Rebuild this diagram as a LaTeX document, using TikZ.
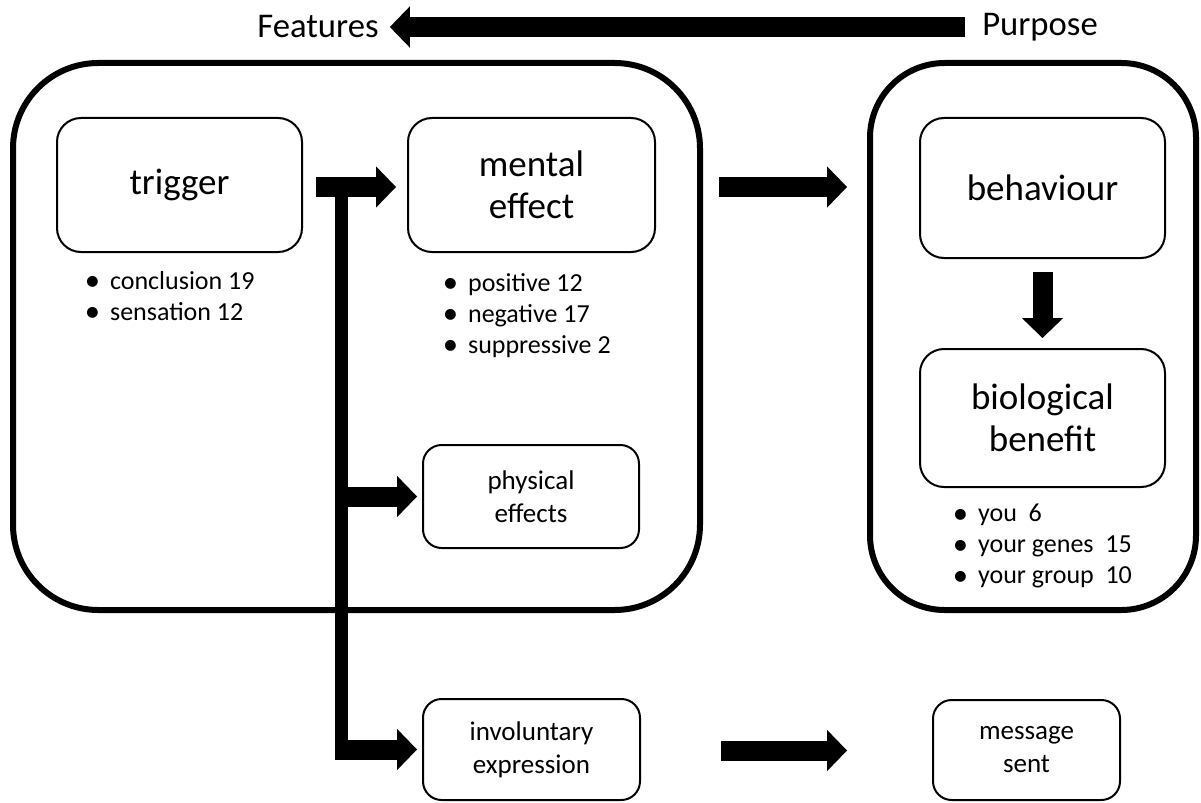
\documentclass[tikz,border=0pt]{standalone}
\usepackage{fontspec}
\setmainfont{Carlito}
\usetikzlibrary{calc,arrows.meta}
\tikzset{
  box/.style={draw, line width=1.5pt, rounded corners=18pt, align=center},
  bigbox/.style={box, font=\fontsize{27.75}{31.5}\selectfont},
  smallbox/.style={box, rounded corners=14pt, font=\fontsize{20.25}{24.75}\selectfont},
  outerbox/.style={draw, line width=4.5pt, rounded corners=64pt},
  facts/.style={align=left, inner sep=0pt, anchor=north west, font=\fontsize{19.5}{23.25}\selectfont},
  heading/.style={inner sep=0pt, font=\fontsize{26}{30}\selectfont},
  fatarrow/.style={draw, line width=15pt, -{Triangle[length=15pt, width=31pt, line width=0pt]}},
  thickbar/.style={draw, line width=9.5pt}
}
\newcommand{\bul}{\makebox[19pt][l]{\raisebox{-1.2pt}{\fontsize{23}{23}\selectfont\textbullet}}}

\begin{document}
\begin{tikzpicture}[x=0.75pt, y=-0.75pt]
  \useasboundingbox (0,0) rectangle (1201,802);

  % headings
  \node[heading] (features) at (318,27) {Features};
  \node[heading] (purpose) at (1040,27) {Purpose};
  \draw[fatarrow] ($(purpose.west)+(-17,0)$) -- ($(features.east)+(11,0)$);

  % the two groups
  \draw[outerbox] (13,63) rectangle (700,610);
  \draw[outerbox, rounded corners=56pt] (870,63) rectangle (1196,610);

  \node[bigbox, minimum width=183.75pt, minimum height=100.5pt] (trigger) at (179.5,185) {trigger};
  \node[bigbox, minimum width=185.25pt, minimum height=100.5pt] (mental) at (531.5,185) {mental\\effect};
  \node[bigbox, minimum width=183.75pt, minimum height=105pt] (behaviour) at (1042.5,188) {behaviour};
  \node[bigbox, minimum width=183.75pt, minimum height=103.5pt] (biological) at (1042.5,418) {biological\\benefit};
  \node[smallbox, minimum width=162pt, minimum height=77.25pt] (physical) at (531,496.5) {physical\\effects};
  \node[smallbox, minimum width=162.75pt, minimum height=75.75pt] (involuntary) at (531.5,749.5) {involuntary\\expression};
  \node[smallbox, minimum width=140.25pt, minimum height=75pt] (message) at (1026.5,750) {message\\sent};

  % counts
  \node[facts] (triggerfacts) at (84.5,271) {\bul conclusion 19\\\bul sensation 12};
  \node[facts] (mentalfacts) at (442.5,273) {\bul positive 12\\\bul negative 17\\\bul suppressive 2};
  \node[facts] (benefitfacts) at (952.5,504) {\bul you~~6\\\bul your genes~~15\\\bul your group~~10};

  % arrows
  \coordinate (bartop) at (341.5,180);
  \coordinate (barbot) at (341.5,760);
  \draw[thickbar] (bartop) -- (barbot);
  \draw[fatarrow] ($(trigger.east)+(13,2)$) -- ($(mental.west)+(-11,2)$);
  \draw[fatarrow] ($(bartop |- physical.west)+(-6,0)$) -- ($(physical.west)+(-5,0)$);
  \draw[fatarrow] ($(barbot |- involuntary.west)+(-6,0)$) -- ($(involuntary.west)+(-5,0)$);
  \draw[fatarrow] ($(mental.east)+(63,2)$) -- ($(behaviour.west |- mental.east)+(-72,2)$);
  \draw[fatarrow] ($(behaviour.south)+(0,13)$) -- ($(biological.north)+(0,-10)$);
  \draw[fatarrow] ($(involuntary.east)+(80,1)$) -- ($(message.west |- involuntary.east)+(-85,1)$);
\end{tikzpicture}
\end{document}
